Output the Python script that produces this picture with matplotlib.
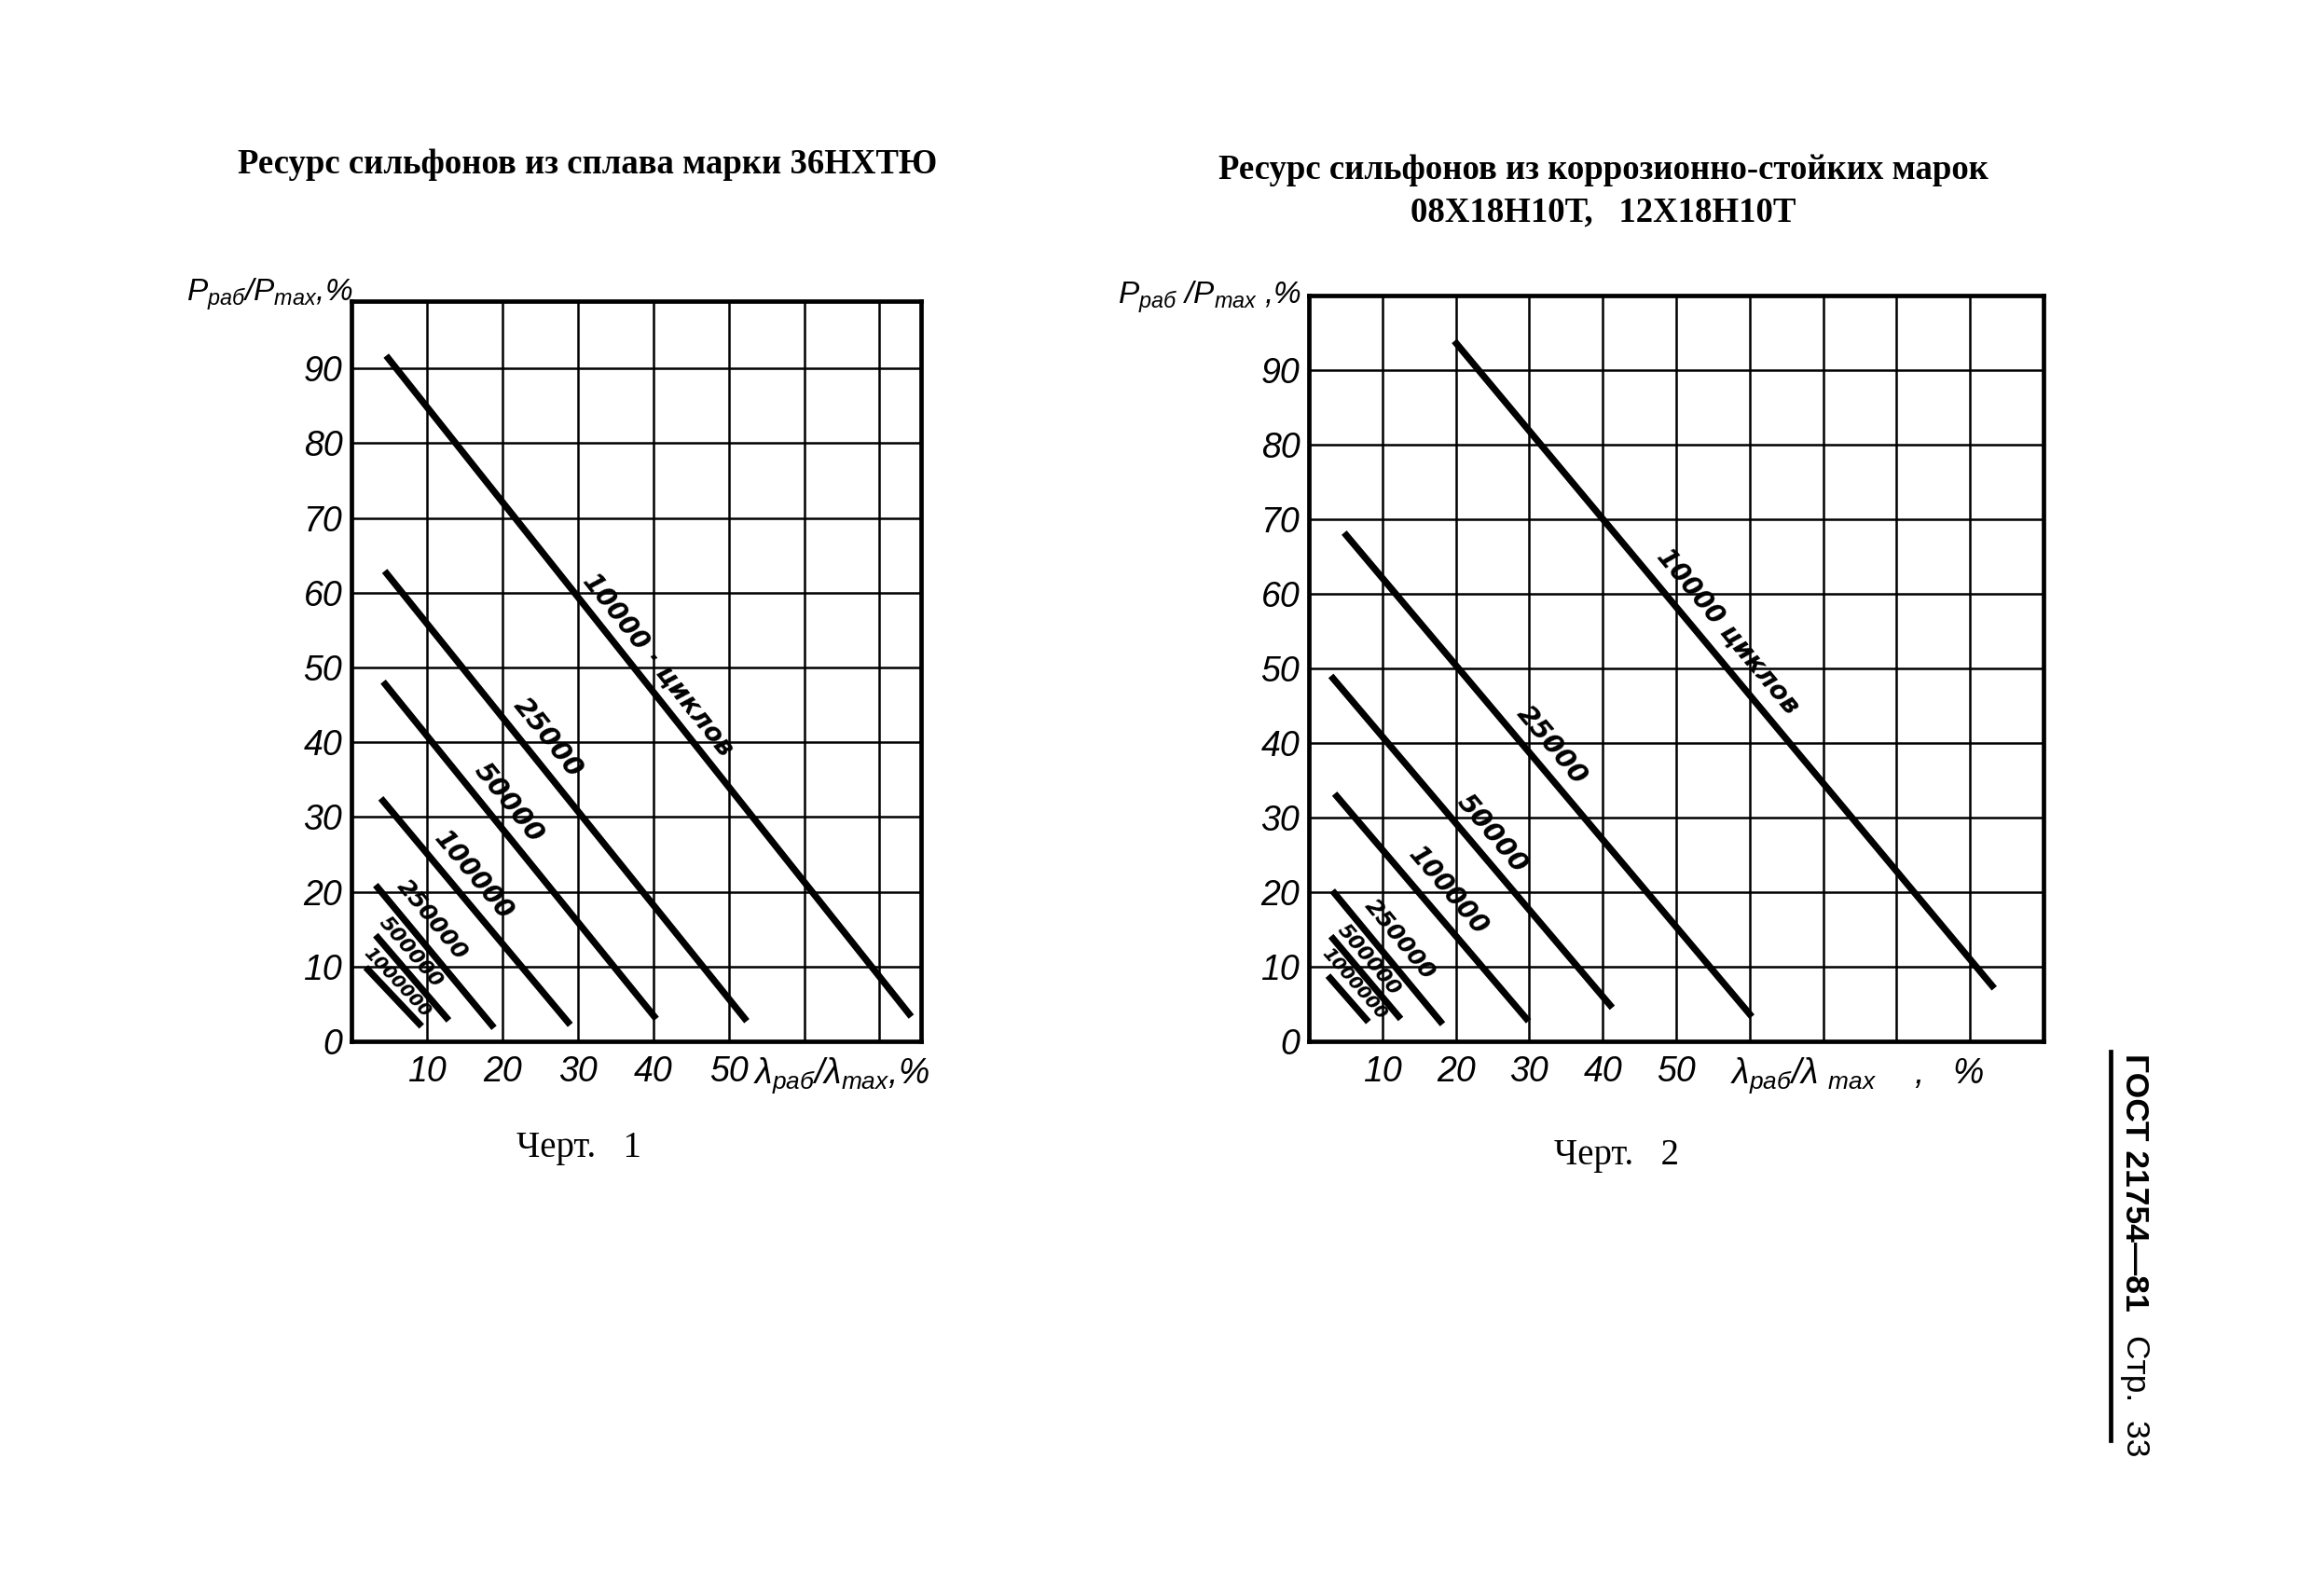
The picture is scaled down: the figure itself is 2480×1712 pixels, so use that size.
import matplotlib
matplotlib.use('Agg')
import matplotlib.pyplot as plt
from matplotlib.lines import Line2D
import numpy as np

plt.rcParams['mathtext.fontset'] = 'custom'
plt.rcParams['mathtext.it'] = 'Liberation Sans:italic'
plt.rcParams['mathtext.rm'] = 'Liberation Sans:italic'
plt.rcParams['mathtext.bf'] = 'Liberation Sans:italic:bold'
plt.rcParams['mathtext.fallback'] = 'stixsans'

# ---------------- data ----------------
title1 = 'Ресурс сильфонов из сплава марки 36НХТЮ'
title2 = 'Ресурс сильфонов из коррозионно-стойких марок\n08Х18Н10Т,   12Х18Н10Т'
caption1 = 'Черт.   1'
caption2 = 'Черт.   2'
side_bold = 'ГОСТ 21754—81'
side_reg = 'Стр.  33'

ylabel1 = r'$P_{раб}/P_{max}$,%'
ylabel2 = r'$P_{раб}$ /$P_{max}$ ,%'
xlabel1 = r'$λ_{раб}/λ_{max}$,%'
xlabel2 = r'$λ_{раб}$/$λ$ $_{max}$    ,   %'

ch1_labels = ['10000 · циклов', '25000', '50000', '100000', '250000', '500000', '1000000']
ch1_x_start = [4.6, 4.4, 4.2, 3.9, 3.2, 3.2, 1.9]
ch1_y_start = [91.7, 62.9, 48.1, 32.5, 20.9, 14.2, 9.9]
ch1_x_end = [74.2, 52.4, 40.4, 29.0, 18.9, 12.9, 9.3]
ch1_y_end = [3.3, 2.7, 3.0, 2.2, 1.8, 2.8, 2.0]
ch1_lab_x = [40.7, 26.1, 20.9, 16.2, 10.7, 7.9, 6.1]
ch1_lab_y = [50.4, 40.6, 31.9, 22.2, 16.2, 11.9, 7.9]

ch2_labels = ['10000 циклов', '25000', '50000', '100000', '250000', '500000', '1000000']
ch2_x_start = [19.8, 4.8, 3.0, 3.5, 3.2, 3.0, 2.6]
ch2_y_start = [93.9, 68.2, 49.0, 33.2, 20.2, 14.1, 8.8]
ch2_x_end = [93.3, 60.3, 41.3, 29.9, 18.2, 12.5, 8.1]
ch2_y_end = [7.1, 3.3, 4.5, 2.7, 2.3, 3.0, 2.6]
ch2_lab_x = [57.0, 33.1, 24.9, 19.0, 12.4, 8.2, 6.2]
ch2_lab_y = [55.0, 39.7, 27.8, 20.2, 13.6, 10.9, 7.7]

label_sizes = [20, 21, 21, 20, 18, 16, 14]

y_ticks = [0, 10, 20, 30, 40, 50, 60, 70, 80, 90]
x_grid1 = [10, 20, 30, 40, 50, 60, 70]
x_grid2 = [10, 20, 30, 40, 50, 60, 70, 80, 90]
x_ticklabels = ['10', '20', '30', '40', '50']

# ---------------- figure ----------------
W, H = 2480, 1712
fig = plt.figure(figsize=(W / 100, H / 100), dpi=100)
fig.patch.set_facecolor('white')

NARROW = ['Liberation Sans', 'DejaVu Sans']


def make_axes(rect_px, xlim, ylim, xgrid):
    l, t, r, b = rect_px
    ax = fig.add_axes([l / W, 1 - b / H, (r - l) / W, (b - t) / H])
    ax.set_xlim(*xlim)
    ax.set_ylim(*ylim)
    for s in ax.spines.values():
        s.set_linewidth(3.4)
        s.set_color('black')
    for gx in xgrid:
        ax.axvline(gx, color='black', lw=1.8, zorder=1)
    for gy in y_ticks[1:]:
        ax.axhline(gy, color='black', lw=1.8, zorder=1)
    ax.set_xticks(xgrid)
    ax.set_xticklabels([str(v) if str(v) in x_ticklabels else '' for v in xgrid])
    ax.set_yticks(y_ticks)
    ax.set_yticklabels([str(v) for v in y_ticks])
    ax.tick_params(axis='x', length=0, pad=11, labelsize=27)
    ax.tick_params(axis='y', length=0, pad=7, labelsize=27)
    for lab in ax.get_xticklabels() + ax.get_yticklabels():
        lab.set_fontfamily(NARROW)
        lab.set_fontstyle('italic')
    return ax


ax1 = make_axes((377, 323, 988, 1117), (0, 75.5), (0, 99), x_grid1)
ax2 = make_axes((1404, 317, 2192, 1117), (0, 100), (0, 100), x_grid2)


def draw_lines(ax, xs, ys, xe, ye, labels, lx, ly):
    for i in range(len(xs)):
        ax.plot([xs[i], xe[i]], [ys[i], ye[i]], color='black', lw=5.2,
                solid_capstyle='butt', zorder=3)
        p0 = ax.transData.transform((xs[i], ys[i]))
        p1 = ax.transData.transform((xe[i], ye[i]))
        ang = np.degrees(np.arctan2(p1[1] - p0[1], p1[0] - p0[0]))
        ax.text(lx[i], ly[i], labels[i], rotation=ang, rotation_mode='anchor',
                ha='center', va='center', fontsize=label_sizes[i],
                family=['DejaVu Sans'], style='oblique', fontweight='bold', zorder=4)


draw_lines(ax1, ch1_x_start, ch1_y_start, ch1_x_end, ch1_y_end, ch1_labels, ch1_lab_x, ch1_lab_y)
draw_lines(ax2, ch2_x_start, ch2_y_start, ch2_x_end, ch2_y_end, ch2_labels, ch2_lab_x, ch2_lab_y)

# axis labels
ax1.annotate(ylabel1, xy=(0, 1), xycoords='axes fraction', xytext=(1, 0),
             textcoords='offset points', ha='right', va='baseline', fontsize=24,
             family=NARROW, style='italic')
ax2.annotate(ylabel2, xy=(0, 1), xycoords='axes fraction', xytext=(-6, -6),
             textcoords='offset points', ha='right', va='baseline', fontsize=24,
             family=NARROW, style='italic')
ax1.annotate(xlabel1, xy=(53.2, 0), xycoords=('data', 'axes fraction'), xytext=(0, -11),
             textcoords='offset points', ha='left', va='top', fontsize=27,
             family=NARROW, style='italic')
ax2.annotate(xlabel2, xy=(57.3, 0), xycoords=('data', 'axes fraction'), xytext=(0, -11),
             textcoords='offset points', ha='left', va='top', fontsize=27,
             family=NARROW, style='italic')

# titles and captions
SERIF = ['Liberation Serif', 'DejaVu Serif']
fig.text(630 / W, 1 - 176 / H, title1, ha='center', va='center', fontsize=26.5,
         fontweight='bold', family=SERIF)
fig.text(1720 / W, 1 - 205 / H, title2, ha='center', va='center', fontsize=26.5,
         fontweight='bold', family=SERIF, linespacing=1.4)
fig.text(621 / W, 1 - 1232 / H, caption1, ha='center', va='center', fontsize=28,
         family=SERIF)
fig.text(1734 / W, 1 - 1240 / H, caption2, ha='center', va='center', fontsize=28,
         family=SERIF)

# side page marker
fig.text(2290 / W, 1 - 1130 / H, side_bold, rotation=-90, ha='center', va='top',
         fontsize=25.5, fontweight='bold', family=['Liberation Sans', 'DejaVu Sans'])
fig.text(2290 / W, 1 - 1432 / H, side_reg, rotation=-90, ha='center', va='top',
         fontsize=25.5, family=['Liberation Sans', 'DejaVu Sans'])
fig.add_artist(Line2D([2264 / W, 2264 / W], [1 - 1128 / H, 1 - 1545 / H],
                      color='black', lw=3.4, transform=fig.transFigure))

fig.savefig('out.png', dpi=100, facecolor='white')
